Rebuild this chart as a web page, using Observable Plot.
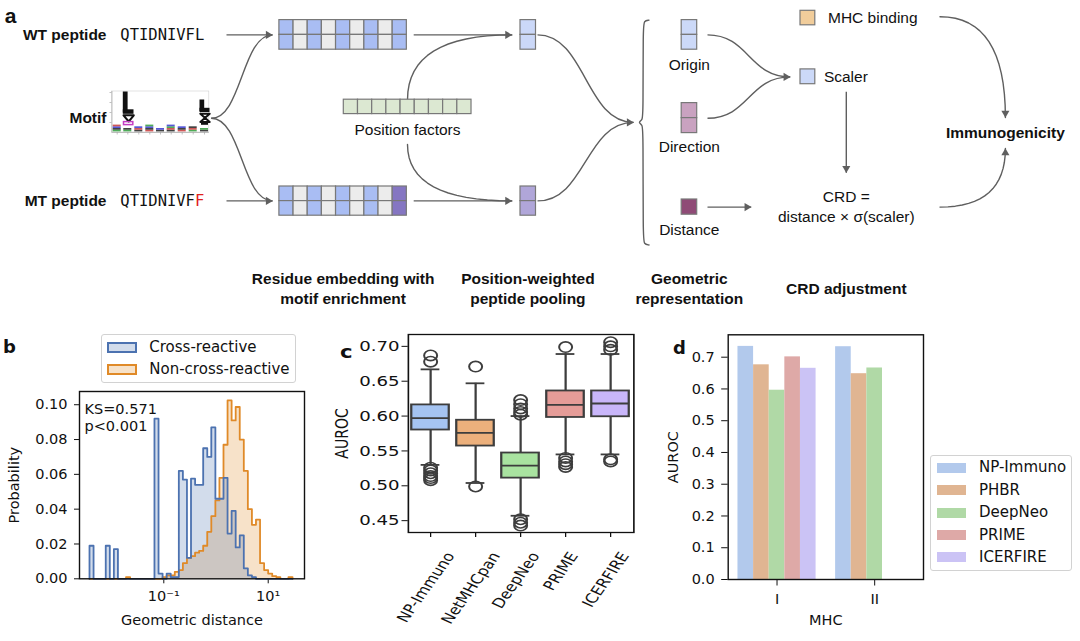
<!DOCTYPE html>
<html><head><meta charset="utf-8">
<script src="https://cdn.jsdelivr.net/npm/d3@7"></script>
<script src="https://cdn.jsdelivr.net/npm/@observablehq/plot@0.6"></script>
<style>
html,body{margin:0;padding:0;background:#fff;}
#fig{position:relative;width:1080px;height:641px;overflow:hidden;background:#fff;}
.panel{position:absolute;}
.legend{position:absolute;border:1px solid #d2d2d2;border-radius:3px;background:#fff;box-sizing:border-box;}
.lentry{position:absolute;height:18px;line-height:18px;font-family:"DejaVu Sans";font-size:15px;color:#111;white-space:nowrap;}
.sw{position:absolute;box-sizing:border-box;}
</style></head><body><div id="fig"></div>
<script>
// ---------------- DATA ----------------
// Panel a (schematic)
const wtSequence = "QTIDNIVFL";
const mtSequence = "QTIDNIVFF";
const wtEmbedding = ["motif","plain","motif","plain","motif","plain","motif","plain","motif"];
const mtEmbedding = ["motif","plain","motif","plain","motif","plain","motif","plain","mutant"];
const positionFactors = ["factor","factor","factor","factor","factor","factor","factor","factor","factor"];
const logoStacks = [["G","K","B","R"],["G","K"],["K","R","B"],["R","K","B","G"],["K","B"],["K","R","G","B"],["R","K","B"],["G","R","K"],["K","G"]];

// Panel b: histogram (probability per log-spaced bin)
const histLogStart = -2.4234;   // log10 of first bin edge
const histLogStep = 0.07778;    // bin width in log10 units
const crossReactive = [
0.019,0,0,0,0.019,0,0.017,0,0,0,
0,0,0,0,0,0,0.092,0.003,0,0.003,
0.001,0.001,0.062,0.057,0.012,0.0575,0.054,0.054,0.075,0.070,
0.087,0.046,0.046,0.058,0.026,0.039,0.018,0.025,0.006,0.002,
0.001,0,0,0,0,0,0,0,0,0];
const nonCrossReactive = [
0,0,0,0,0,0,0,0,0,0.001,
0,0,0,0,0,0,0,0,0.001,0.002,
0.002,0.004,0.005,0.009,0.012,0.013,0.015,0.016,0.019,0.027,
0.036,0.045,0.058,0.077,0.1025,0.091,0.0987,0.080,0.062,0.040,
0.031,0.034,0.009,0.005,0.003,0.0015,0.001,0,0,0.001];
const bXTicks = [0.1, 10];
const bXTickLabels = ["10⁻¹", "10¹"];
const bYTicks = [0, 0.02, 0.04, 0.06, 0.08, 0.10];

// Panel c: boxplots of AUROC
const cModels = ["NP-Immuno","NetMHCpan","DeepNeo","PRIME","ICERFIRE"];
const cQ1 = [0.580, 0.557, 0.511, 0.598, 0.599];
const cMedian = [0.597, 0.576, 0.529, 0.616, 0.618];
const cQ3 = [0.616, 0.594, 0.547, 0.636, 0.636];
const cWhiskerLow = [0.530, 0.504, 0.457, 0.545, 0.545];
const cWhiskerHigh = [0.667, 0.647, 0.600, 0.689, 0.689];
const cOutliers = [
  [0.687, 0.678, 0.526, 0.522, 0.518, 0.514, 0.511, 0.508],
  [0.671, 0.499],
  [0.623, 0.617, 0.611, 0.606, 0.602, 0.452, 0.447, 0.443],
  [0.699, 0.540, 0.535, 0.531, 0.527],
  [0.706, 0.700, 0.695, 0.538, 0.535]
];
const cYTicks = [0.45, 0.50, 0.55, 0.60, 0.65, 0.70];

// Panel d: grouped bars
const dMHC = ["I", "II"];
const dModels = ["NP-Immuno","PHBR","DeepNeo","PRIME","ICERFIRE"];
const dAurocI = [0.734, 0.676, 0.596, 0.701, 0.665];
const dAurocII = [0.733, 0.648, 0.666, null, null];
const dYTicks = [0, 0.1, 0.2, 0.3, 0.4, 0.5, 0.6, 0.7];

// ---------------- STYLES ----------------
const cellColor = {motif:"#a9bdf3", plain:"#ececec", mutant:"#8576c2", factor:"#dce8d2",
  pooledWT:"#cbd8f8", pooledMT:"#b0a6d9", origin:"#ccd9f8", direction:"#c9a2c0",
  distance:"#8f4a76", mhc:"#f1cd9b", scaler:"#ccd9f8"};
const logoColor = {G:"#2f9e3c", K:"#222222", B:"#3a3ad0", R:"#c83a3a"};
const crossColor = "#4c72b0", nonCrossColor = "#e08a28";
const cColors = ["#a5c4f2","#ecb07c","#a9e3a0","#e59c98","#c9b6fa"];
const dColors = ["#b2c9ec","#e0b592","#b0d9a6","#dea9a7","#cbc3f5"];
const lineCol = "#5f5f5f";
const sans = "Liberation Sans", mono = "DejaVu Sans Mono", mpl = "DejaVu Sans";

const fig = document.getElementById("fig");
function addPanel(node, left, top, extra = {}) {
  const wrap = document.createElement("div");
  wrap.className = "panel";
  wrap.style.left = left + "px"; wrap.style.top = top + "px";
  Object.assign(wrap.style, extra);
  wrap.appendChild(node); fig.appendChild(wrap); return wrap;
}
function addLegend(box, entries, swX, swW, swH, textX, filled) {
  const lg = document.createElement("div");
  lg.className = "legend";
  Object.assign(lg.style, {left: box[0]+"px", top: box[1]+"px", width: (box[2]-box[0])+"px", height: (box[3]-box[1])+"px"});
  fig.appendChild(lg);
  entries.forEach(e => {
    const sw = document.createElement("div");
    sw.className = "sw";
    Object.assign(sw.style, {left: swX+"px", top: (e.cy - swH/2)+"px", width: swW+"px", height: swH+"px"});
    if (filled) sw.style.background = e.color;
    else { sw.style.background = e.fill; sw.style.border = "2px solid " + e.color; }
    fig.appendChild(sw);
    const t = document.createElement("div");
    t.className = "lentry"; t.textContent = e.label;
    Object.assign(t.style, {left: textX+"px", top: (e.cy - 9.5)+"px"});
    fig.appendChild(t);
  });
}

// ---------------- PANEL A ----------------
function grid(kinds, x0, y0, w, h, rows) {
  const out = [];
  kinds.forEach((k, i) => { for (let r = 0; r < rows; r++) out.push({x1: x0+i*w, x2: x0+(i+1)*w, y1: y0+r*h, y2: y0+(r+1)*h, kind: k}); });
  return out;
}
const cells = [
  ...grid(wtEmbedding, 278.9, 19.6, 14.16, 14.8, 2),
  ...grid(mtEmbedding, 278.9, 186, 14.16, 14.6, 2),
  ...grid(positionFactors, 343.3, 99.2, 14.19, 14.4, 1),
  ...grid(["pooledWT"], 520, 19.6, 15.5, 14.8, 2),
  ...grid(["pooledMT"], 520, 186, 15.5, 14.6, 2),
  ...grid(["origin"], 681.2, 19.6, 15.5, 14.8, 2),
  ...grid(["direction"], 681.2, 102.6, 15.5, 15, 2),
  ...grid(["distance"], 681.2, 199, 15.5, 15.2, 1),
  ...grid(["mhc"], 800, 10.3, 14.8, 14.5, 1),
  ...grid(["scaler"], 800, 68.9, 14.8, 14.8, 1)
];
const straight = [
  {x1:226,y1:34.4,x2:272,y2:34.4,a:90},{x1:226,y1:200.4,x2:272,y2:200.4,a:90},
  {x1:413.2,y1:34.4,x2:511.4,y2:34.4,a:90},{x1:413.2,y1:200.4,x2:511.4,y2:200.4,a:90},
  {x1:707,y1:206.6,x2:750.7,y2:206.6,a:90},{x1:845.8,y1:91.3,x2:845.8,y2:172.2,a:180}
];
const bumps = [
  {x1:210.7,y1:117.8,x2:272,y2:34.4},{x1:210.7,y1:117.8,x2:272,y2:200.4},
  {x1:537,y1:34.4,x2:633,y2:121.9,a:90},{x1:537,y1:200.4,x2:633,y2:121.9},
  {x1:707,y1:34.4,x2:789.7,y2:76.4,a:90},{x1:707,y1:117.8,x2:789.7,y2:76.4}
];
// quadratic-like connectors (start, corner, end) sampled as a smooth path
function quad(p0, p1, p2, n = 16) {
  return d3.range(n + 1).map(i => { const t = i / n, u = 1 - t;
    return [u*u*p0[0] + 2*u*t*p1[0] + t*t*p2[0], u*u*p0[1] + 2*u*t*p1[1] + t*t*p2[1]]; });
}
const basisCurves = [
  {id:"pf1", pts: quad([407,99.2],[407,34.4],[511.4,34.4]), c: "linear"},
  {id:"pf2", pts: quad([407,144],[407,200.4],[511.4,200.4]), c: "linear"},
  {id:"mhc", pts: quad([939.5,16.2],[1004.9,16.2],[1004.9,117]), a:180, c: "linear"},
  {id:"crd", pts: quad([939.5,206.6],[1004.9,206.6],[1004.9,148]), a:0, c: "linear"},
  {id:"brace", pts:[[648.5,19.6],[643.5,20.2],[642.6,27],[642.6,113],[642,119.5],[637.5,121.9],[642,124.3],[642.6,131],[642.6,237],[643.5,243.8],[648.5,244.5]]}
];
const smoothPts = basisCurves.filter(c => c.c === "linear").flatMap(c => c.pts.map(([x,y]) => ({id: c.id, x, y})));
const bracePts = basisCurves.filter(c => c.id === "brace").flatMap(c => c.pts.map(([x,y]) => ({id: c.id, x, y})));
const heads = [];
straight.forEach(s => heads.push({tx: s.x2, ty: s.y2, a: s.a}));
bumps.filter(b => b.a !== undefined).forEach(b => heads.push({tx: b.x2, ty: b.y2, a: b.a}));
basisCurves.filter(c => c.a !== undefined).forEach(c => { const p = c.pts[c.pts.length-1]; heads.push({tx: p[0], ty: p[1], a: c.a}); });
heads.forEach(h => { const rad = h.a * Math.PI / 180; h.x = h.tx - 4.3*Math.sin(rad); h.y = h.ty + 4.3*Math.cos(rad); });

// motif logo pieces
const logoCenters = [116.7,127.3,138.3,149.3,160,170.7,181.7,192.7,204];
const logoSmall = [];
logoStacks.forEach((stack, i) => stack.forEach((k, j) => logoSmall.push({x1: logoCenters[i]-4, x2: logoCenters[i]+4, y1: 131.4 - (j+1)*1.7, y2: 131.4 - j*1.7, k})));
const logoBig = [
  {x1:122.8,x2:127.6,y1:91.5,y2:112.5},{x1:122.8,x2:133.5,y1:109.3,y2:113.8},
  {x1:199.5,x2:204.2,y1:99.5,y2:111},{x1:199.5,x2:209.5,y1:107.8,y2:112},
  {x1:201,x2:208,y1:122,y2:124.8}
];
const logoOutlines = [
  {id:"v1", pts:[[123,114.8],[133.3,114.8],[128.2,121],[123,114.8]]},
  {id:"v2", pts:[[199.8,113.2],[209.2,113.2],[199.8,121.4],[209.2,121.4],[199.8,113.2]]}
].flatMap(c => c.pts.map(([x,y]) => ({id:c.id,x,y})));

const labelsA = [
  {t:"a", x:10, y:16, anchor:"middle", w:"bold", s:21},
  {t:"WT peptide", x:106, y:34.4, anchor:"end", w:"bold"},
  {t:"Motif", x:106, y:117.8, anchor:"end", w:"bold"},
  {t:"MT peptide", x:106, y:200.4, anchor:"end", w:"bold"},
  {t:wtSequence, x:119.8, y:34.4, anchor:"start", f:mono},
  {t:mtSequence.slice(0,8), x:119.8, y:200.4, anchor:"start", f:mono},
  {t:mtSequence.slice(8), x:119.8 + 8*9.33, y:200.4, anchor:"start", f:mono, c:"#e0201c"},
  {t:"Position factors", x:407, y:129.1, anchor:"middle"},
  {t:"Origin", x:688.8, y:64.4, anchor:"middle"},
  {t:"Direction", x:688.8, y:147, anchor:"middle"},
  {t:"Distance", x:688.8, y:230, anchor:"middle"},
  {t:"MHC binding", x:827.5, y:17.2, anchor:"start"},
  {t:"Scaler", x:823.4, y:76.4, anchor:"start"},
  {t:"CRD =", x:845.8, y:196.6, anchor:"middle"},
  {t:"distance × σ(scaler)", x:845.8, y:217, anchor:"middle"},
  {t:"Immunogenicity", x:1004.9, y:132.6, anchor:"middle", w:"bold"},
  {t:"Residue embedding with", x:342.6, y:279, anchor:"middle", w:"bold"},
  {t:"motif enrichment", x:342.6, y:299, anchor:"middle", w:"bold"},
  {t:"Position-weighted", x:527.4, y:279, anchor:"middle", w:"bold"},
  {t:"peptide pooling", x:527.4, y:299, anchor:"middle", w:"bold"},
  {t:"Geometric", x:688.8, y:279, anchor:"middle", w:"bold"},
  {t:"representation", x:688.8, y:299, anchor:"middle", w:"bold"},
  {t:"CRD adjustment", x:845.8, y:288.6, anchor:"middle", w:"bold"}
];

const panelA = Plot.plot({
  width: 1080, height: 320, margin: 0,
  x: {domain: [0, 1080], range: [0, 1080], axis: null},
  y: {domain: [0, 320], range: [0, 320], axis: null},
  color: {type: "identity"},
  style: {background: "transparent"},
  marks: [
    Plot.link(straight, {x1:"x1", y1:"y1", x2:"x2", y2:"y2", stroke: lineCol, strokeWidth: 1.4}),
    Plot.link(bumps, {x1:"x1", y1:"y1", x2:"x2", y2:"y2", curve: "bump-x", stroke: lineCol, strokeWidth: 1.4}),
    Plot.line(smoothPts, {x:"x", y:"y", z:"id", curve: "linear", stroke: lineCol, strokeWidth: 1.4}),
    Plot.line(bracePts, {x:"x", y:"y", z:"id", curve: "basis", stroke: lineCol, strokeWidth: 1.4}),
    Plot.dot(heads, {x:"x", y:"y", symbol: "triangle", r: 3, rotate: "a", fill: lineCol, stroke: "none"}),
    Plot.rect(cells, {x1:"x1", x2:"x2", y1:"y1", y2:"y2", fill: d => cellColor[d.kind], stroke: "#787878", strokeWidth: 1.2}),
    // motif logo
    Plot.rect([{x1:111.5,x2:208.8,y1:91,y2:132}], {x1:"x1", x2:"x2", y1:"y1", y2:"y2", fill: "none", stroke: "#d0d0d0", strokeWidth: 0.6}),
    Plot.ruleX([111.5], {y1: 91, y2: 132, stroke: "#a8a8a8", strokeWidth: 0.7}),
    Plot.ruleY([132], {x1: 111.5, x2: 208.8, stroke: "#a8a8a8", strokeWidth: 0.7}),
    Plot.ruleY([92,102,112,122], {x1: 109.5, x2: 111.5, stroke: "#a8a8a8", strokeWidth: 0.7}),
    Plot.ruleX(logoCenters, {y1: 132, y2: 134.5, stroke: "#a8a8a8", strokeWidth: 0.7}),
    Plot.rect(logoSmall, {x1:"x1", x2:"x2", y1:"y1", y2:"y2", fill: d => logoColor[d.k], fillOpacity: 0.85}),
    Plot.rect(logoBig, {x1:"x1", x2:"x2", y1:"y1", y2:"y2", fill: "#111"}),
    Plot.line(logoOutlines, {x:"x", y:"y", z:"id", stroke: "#111", strokeWidth: 2}),
    Plot.rect([{x1:123.5,x2:132.8,y1:121.6,y2:124.6}], {x1:"x1", x2:"x2", y1:"y1", y2:"y2", fill: "none", stroke: "#c43cc4", strokeWidth: 1.5}),
    ...labelsA.map(l => Plot.text([l], {x: "x", y: "y", text: "t", textAnchor: l.anchor,
      fontFamily: l.f || sans, fontWeight: l.w || "normal", fontSize: l.s || 15.5, fill: l.c || "#111"}))
  ]
});
addPanel(panelA, 0, 0);

// ---------------- PANEL B ----------------
function stepPoints(vals) {
  const pts = [{x: 10 ** histLogStart, y: 0}];
  vals.forEach((v, i) => pts.push({x: 10 ** (histLogStart + i * histLogStep), y: v}));
  pts.push({x: 10 ** (histLogStart + vals.length * histLogStep), y: 0});
  return pts;
}
const crossPts = stepPoints(crossReactive);
const nonCrossPts = stepPoints(nonCrossReactive);
const panelB = Plot.plot({
  width: 320, height: 311, marginLeft: 79, marginRight: 16, marginTop: 61, marginBottom: 62.7,
  style: {fontFamily: mpl, fontSize: "14.5px", color: "#111", background: "transparent"},
  x: {type: "log", domain: [10 ** -2.615, 10 ** 1.695], ticks: bXTicks, tickFormat: d => bXTickLabels[bXTicks.indexOf(d)], tickSize: 5, tickPadding: 7, label: null},
  y: {domain: [0, 0.1076], ticks: bYTicks, tickFormat: d3.format(".2f"), tickSize: 5, tickPadding: 7, label: null},
  marks: [
    Plot.areaY(nonCrossPts, {x: "x", y: "y", curve: "step-after", fill: nonCrossColor, fillOpacity: 0.25}),
    Plot.areaY(crossPts, {x: "x", y: "y", curve: "step-after", fill: crossColor, fillOpacity: 0.25}),
    Plot.lineY(nonCrossPts, {x: "x", y: "y", curve: "step-after", stroke: nonCrossColor, strokeWidth: 1.8}),
    Plot.lineY(crossPts, {x: "x", y: "y", curve: "step-after", stroke: crossColor, strokeWidth: 1.8}),
    Plot.frame({stroke: "#111", strokeWidth: 1.4}),
    Plot.text(["KS=0.571"], {frameAnchor: "top-left", dx: 5, dy: 12, textAnchor: "start", fontSize: 14.5}),
    Plot.text(["p<0.001"], {frameAnchor: "top-left", dx: 5, dy: 29, textAnchor: "start", fontSize: 14.5}),
    Plot.text(["Probability"], {frameAnchor: "left", dx: -65, rotate: -90, textAnchor: "middle", fontSize: 14.5}),
    Plot.text(["Geometric distance"], {frameAnchor: "bottom", dy: 45.7, textAnchor: "middle", fontSize: 14.5}),
    Plot.text(["b"], {frameAnchor: "top-left", dx: -70, dy: -51, textAnchor: "middle", fontSize: 18, fontWeight: "bold"})
  ]
});
addPanel(panelB, 0, 330);
addLegend([101, 334.3, 296, 382.7], [
  {label: "Cross-reactive", cy: 347.3, color: crossColor, fill: "rgba(76,114,176,0.25)"},
  {label: "Non-cross-reactive", cy: 369, color: nonCrossColor, fill: "rgba(224,138,40,0.25)"}
], 106.7, 30.6, 11, 149.3, false);

// ---------------- PANEL C ----------------
const cRows = cModels.map((m, i) => ({model: m, q1: cQ1[i], median: cMedian[i], q3: cQ3[i], lo: cWhiskerLow[i], hi: cWhiskerHigh[i]}));
const cOut = cModels.flatMap((m, i) => cOutliers[i].map(v => ({model: m, value: v})));
const cStretch = 1.25;
const measureCtx = document.createElement("canvas").getContext("2d");
measureCtx.font = "13.5px 'DejaVu Sans'";
const boxStroke = "#3d3d3d";
const panelC = Plot.plot({
  width: 272, height: 321, marginLeft: 70.2, marginRight: 21.4, marginTop: 14, marginBottom: 109,
  style: {fontFamily: mpl, fontSize: "14.5px", color: "#111", background: "transparent"},
  x: {domain: cModels, paddingInner: 0.17, paddingOuter: 0.085, tickSize: 5, tickFormat: () => "", label: null},
  y: {domain: [0.433, 0.717], ticks: cYTicks, tickFormat: d3.format(".2f"), tickSize: 5, tickPadding: 2, label: null},
  color: {domain: cModels, range: cColors},
  marks: [
    Plot.ruleX(cRows, {x: "model", y1: "q3", y2: "hi", stroke: boxStroke, strokeWidth: 1.8}),
    Plot.ruleX(cRows, {x: "model", y1: "lo", y2: "q1", stroke: boxStroke, strokeWidth: 1.8}),
    Plot.tickY(cRows, {x: "model", y: "hi", insetLeft: 7.5, insetRight: 7.5, stroke: boxStroke, strokeWidth: 1.8}),
    Plot.tickY(cRows, {x: "model", y: "lo", insetLeft: 7.5, insetRight: 7.5, stroke: boxStroke, strokeWidth: 1.8}),
    Plot.barY(cRows, {x: "model", y1: "q1", y2: "q3", fill: "model", stroke: boxStroke, strokeWidth: 1.8}),
    Plot.tickY(cRows, {x: "model", y: "median", stroke: boxStroke, strokeWidth: 1.8}),
    Plot.dot(cOut, {x: "model", y: "value", r: 5.2, stroke: boxStroke, strokeWidth: 1.6, fill: "none"}),
    Plot.frame({stroke: "#111", strokeWidth: 1.3}),
    ...cModels.map(m => {
      const L = measureCtx.measureText(m).width;
      return Plot.text([m], {x: () => m, frameAnchor: "bottom", dy: 19 + (0.866 * L + 0.5 * 13.5 * 1.2) / 2,
        rotate: -60, textAnchor: "middle", fontSize: 13.5});
    }),
    Plot.text(["AUROC"], {frameAnchor: "left", dx: -52.8, rotate: -90, textAnchor: "middle", fontSize: 14}),
    Plot.text(["c"], {frameAnchor: "top-left", dx: -49.6, dy: 11, textAnchor: "middle", fontSize: 17, fontWeight: "bold"})
  ]
});
addPanel(panelC, 320, 320, {transform: `scaleX(${cStretch})`, transformOrigin: "0 0"});

// ---------------- PANEL D ----------------
const dRows = [];
dMHC.forEach((g, gi) => {
  const vals = gi === 0 ? dAurocI : dAurocII;
  dModels.forEach((m, mi) => {
    if (vals[mi] == null) return;
    const xc = gi + (mi - 2) * 0.16;
    dRows.push({model: m, mhc: g, value: vals[mi], x1: xc - 0.08, x2: xc + 0.08, color: dColors[mi]});
  });
});
const panelD = Plot.plot({
  width: 420, height: 321, marginLeft: 67.7, marginRight: 157, marginTop: 14.3, marginBottom: 62,
  style: {fontFamily: mpl, fontSize: "14.5px", color: "#111", background: "transparent"},
  x: {domain: [-0.5, 1.5], ticks: [0, 1], tickFormat: i => dMHC[i], tickSize: 6.5, tickPadding: 8, label: null},
  y: {domain: [0, 0.7705], ticks: dYTicks, tickFormat: d3.format(".1f"), tickSize: 6.5, tickPadding: 7, label: null},
  color: {type: "identity"},
  marks: [
    Plot.rectY(dRows, {x1: "x1", x2: "x2", y1: 0, y2: "value", fill: "color"}),
    Plot.frame({stroke: "#111", strokeWidth: 1.4}),
    Plot.text(["AUROC"], {frameAnchor: "left", dx: -55.2, rotate: -90, textAnchor: "middle", fontSize: 14.5}),
    Plot.text(["MHC"], {frameAnchor: "bottom", dy: 45, textAnchor: "middle", fontSize: 14.5}),
    Plot.text(["d"], {frameAnchor: "top-left", dx: -48.7, dy: 6.7, textAnchor: "middle", fontSize: 18, fontWeight: "bold"})
  ]
});
addPanel(panelD, 660, 320);
addLegend([930, 455, 1072, 570.7], dModels.map((m, i) => ({label: m, cy: [467.7, 490, 512.7, 535, 557.3][i], color: dColors[i]})),
  936.7, 29.3, 10, 979, true);
</script></body></html>
